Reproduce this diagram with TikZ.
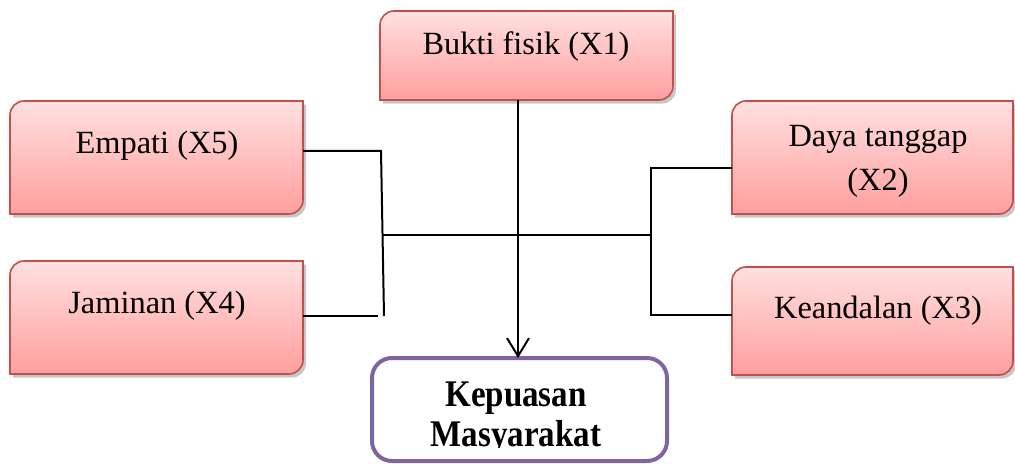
\documentclass[tikz,border=0pt]{standalone}
\usepackage{fontspec}
\setmainfont{Liberation Serif}
\usetikzlibrary{arrows.meta}
\definecolor{boxred}{HTML}{C0504D}
\definecolor{pinktop}{RGB}{255,224,224}
\definecolor{pinkbot}{RGB}{255,158,158}
\definecolor{kpurple}{HTML}{8064A2}
\newcommand\pinkbox[1]{%
  \fill[black,opacity=0.22,transform canvas={shift={(1.5pt,-1.8pt)}}]
    (#1.south west) -- ([yshift=-7pt]#1.north west) arc[start angle=180,end angle=90,radius=7pt]
    -- (#1.north east) -- ([yshift=7pt]#1.south east) arc[start angle=0,end angle=-90,radius=7pt] -- cycle;
  \draw[boxred,line width=0.8pt,top color=pinktop,bottom color=pinkbot]
    (#1.south west) -- ([yshift=-7pt]#1.north west) arc[start angle=180,end angle=90,radius=7pt]
    -- (#1.north east) -- ([yshift=7pt]#1.south east) arc[start angle=0,end angle=-90,radius=7pt] -- cycle;
}
\newcommand\tallbf[1]{\scalebox{1}[1.14]{#1}}
\begin{document}
\begin{tikzpicture}[x=0.5pt,y=-0.5pt,
  boxn/.style={rectangle,inner sep=0pt,outer sep=0pt},
  lbl/.style={anchor=base,inner sep=0pt,font=\fontsize{16.2}{22}\selectfont},
  klbl/.style={anchor=base,inner sep=0pt,font=\fontsize{16.5}{20}\selectfont\bfseries},
  conn/.style={line width=1pt,black},
  kbox/.style={rectangle,draw=kpurple,line width=2pt,rounded corners=10pt,fill=white,inner sep=0pt,outer sep=0pt}]
\useasboundingbox (0,0) rectangle (1015,464);

% box placeholders
\node[boxn,minimum width=146.5pt,minimum height=44.5pt] (x1) at (526.5,55.5) {};
\node[boxn,minimum width=146.5pt,minimum height=56.5pt] (x5) at (156.5,157.5) {};
\node[boxn,minimum width=146.5pt,minimum height=56.5pt] (x4) at (156.5,317.5) {};
\node[boxn,minimum width=140.5pt,minimum height=56.5pt] (x2) at (872.5,157.5) {};
\node[boxn,minimum width=140.5pt,minimum height=54pt] (x3) at (872.5,321) {};

\pinkbox{x1}
\pinkbox{x5}
\pinkbox{x4}
\pinkbox{x2}
\pinkbox{x3}

\node[kbox,minimum width=147.5pt,minimum height=51.5pt] (k) at (519.5,409.5) {};

% labels
\node[lbl] (t1) at (526,55) {Bukti fisik (X1)};
\node[lbl] (t5) at (157,154) {Empati (X5)};
\node[lbl] (t4) at (157,314) {Jaminan (X4)};
\node[lbl] (t2) at (878,147) {\begin{tabular}[t]{@{}c@{}}Daya tanggap\\(X2)\end{tabular}};
\node[lbl] (t3) at (878,318) {Keandalan (X3)};
\begin{scope}
  \clip (360,340) rectangle (680,447);
  \node[klbl] (tk) at (516,406) {\begin{tabular}[t]{@{}c@{}}\tallbf{Kepuasan}\\\tallbf{Masyarakat}\end{tabular}};
\end{scope}

% connectors
\coordinate (lj) at (381,151);
\coordinate (lb) at (384,316);
\coordinate (ml) at (382,235);
\coordinate (mr) at (651,235);
\coordinate (rt) at (651,168);
\coordinate (rb) at (651,315);
\draw[conn] (x5.east |- 0,151) -- (lj) -- (lb);
\draw[conn] (x4.east |- 0,316) -- (378,316);
\draw[conn] (ml) -- (mr);
\draw[conn] (x2.west |- rt) -- (rt) -- (rb) -- (x3.west |- rb);
\draw[conn,-{Straight Barb[length=9pt,width=11pt,line width=1pt]}] (x1.south -| 518,0) -- (k.north -| 518,0);
\end{tikzpicture}
\end{document}
